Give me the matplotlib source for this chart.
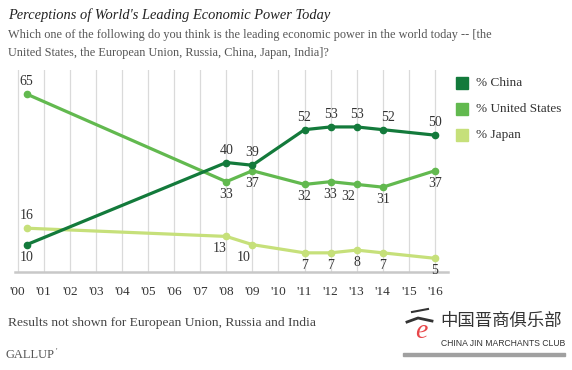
import matplotlib.pyplot as plt
import matplotlib.patches as mpatches
import matplotlib.lines as mlines

# survey years (2000 poll was fielded mid-year)
years = [2000.35, 2008, 2009, 2011, 2012, 2013, 2014, 2016]
china = [10, 40, 39, 52, 53, 53, 52, 50]
usa = [65, 33, 37, 32, 33, 32, 31, 37]
japan = [16, 13, 10, 7, 7, 8, 7, 5]

tick_years = list(range(2000, 2017))
tick_labels = ["'%02d" % (y % 100) for y in tick_years]

c_china = '#137a3b'
c_usa = '#62b94f'
c_japan = '#c6e07a'
txt = '#333333'
serif = ['Liberation Serif', 'DejaVu Serif']

# label offsets (points) for each point
off_china = [(0, -9), (0, 9), (0, 9), (0, 9), (0, 9), (0, 9), (4, 9), (0, 9)]
off_usa = [(0, 9), (0, -9), (0, -9), (0, -9), (0, -9), (-6, -9), (0, -9), (0, -9)]
off_japan = [(0, 9), (-5, -9), (-6, -9), (0, -9), (0, -9), (0, -9), (0, -9), (0, -9)]

fig = plt.figure(figsize=(5.72, 3.70), dpi=100)
fig.patch.set_facecolor('white')
ax = fig.add_axes([15/572, 1 - 272/370, 433/572, 202/370])

for y in tick_years:
    ax.axvline(y, color='#dadada', lw=0.9, zorder=0)

for vals, col, offs in [(usa, c_usa, off_usa), (japan, c_japan, off_japan), (china, c_china, off_china)]:
    ax.plot(years, vals, color=col, lw=2.3, marker='o', ms=4.5, solid_joinstyle='round', zorder=3)
    for x, v, o in zip(years, vals, offs):
        ax.annotate(str(v), (x, v), xytext=o, textcoords='offset points',
                    ha='center', va='center', fontsize=10, color=txt, family=serif, zorder=4)

ax.set_xlim(1999.9, 2016.5)
ax.set_ylim(0, 73.8)
ax.set_yticks([])
ax.set_xticks(tick_years)
ax.set_xticklabels(tick_labels, fontsize=9.5, color=txt, family=serif)
ax.tick_params(axis='x', length=0, pad=10)
for s in ['top', 'right', 'left']:
    ax.spines[s].set_visible(False)
ax.spines['bottom'].set_color('#c8c8c8')
ax.spines['bottom'].set_linewidth(1.8)
ax.set_facecolor('none')

# titles
fig.text(8/572, 1 - 15/370, "Perceptions of World's Leading Economic Power Today",
         fontsize=10.4, style='italic', color='#222222', family=serif, va='center')
fig.text(8/572, 1 - 35/370,
         "Which one of the following do you think is the leading economic power in the world today -- [the",
         fontsize=8.8, color='#555555', family=serif, va='center')
fig.text(8/572, 1 - 53/370, "United States, the European Union, Russia, China, Japan, India]?",
         fontsize=8.8, color='#555555', family=serif, va='center')

# legend
for i, (lab, col) in enumerate([('% China', c_china), ('% United States', c_usa), ('% Japan', c_japan)]):
    yy = 83 + 26 * i
    fig.patches.append(mpatches.Rectangle((456/572, 1 - (yy + 6)/370), 12/572, 12/370,
                                          transform=fig.transFigure, color=col))
    fig.text(476/572, 1 - yy/370, lab, fontsize=9.5, color=txt, family=serif, va='center')

fig.text(8/572, 1 - 323/370, "Results not shown for European Union, Russia and India",
         fontsize=9.7, color='#444444', family=serif, va='center')
fig.text(5/572, 1 - 355/370, "GALLUP", fontsize=9, color='#555555', family=serif, va='center')
fig.text(56/572, 1 - 352/370, "'", fontsize=6, color='#555555', family=serif, va='center')

# watermark logo
fig.patches.append(mpatches.Rectangle((403/572, 1 - 356/370), 162/572, 3/370,
                                      transform=fig.transFigure, color='#a0a0a0'))
fig.text(421/572, 1 - 332/370, "e", fontsize=20, style='italic', color='#e8474a',
         family=serif, ha='center', va='center')
fig.lines.append(mlines.Line2D([407/572, 418/572, 432/572], [1 - 322/370, 1 - 318/370, 1 - 321/370],
                               transform=fig.transFigure, color='#333333', lw=2))
fig.lines.append(mlines.Line2D([412/572, 428/572], [1 - 312/370, 1 - 309/370],
                               transform=fig.transFigure, color='#333333', lw=1.5))
fig.text(440/572, 1 - 321/370, "中国晋商俱乐部", fontsize=12.5, color='#333333',
         family=['Noto Sans CJK SC', 'DejaVu Sans'], va='center')
fig.text(441/572, 1 - 344/370, "CHINA JIN MARCHANTS CLUB", fontsize=6.2, color='#333333',
         family=['Liberation Sans', 'DejaVu Sans'], va='center')

fig.savefig('out.png', dpi=100, facecolor='white')
